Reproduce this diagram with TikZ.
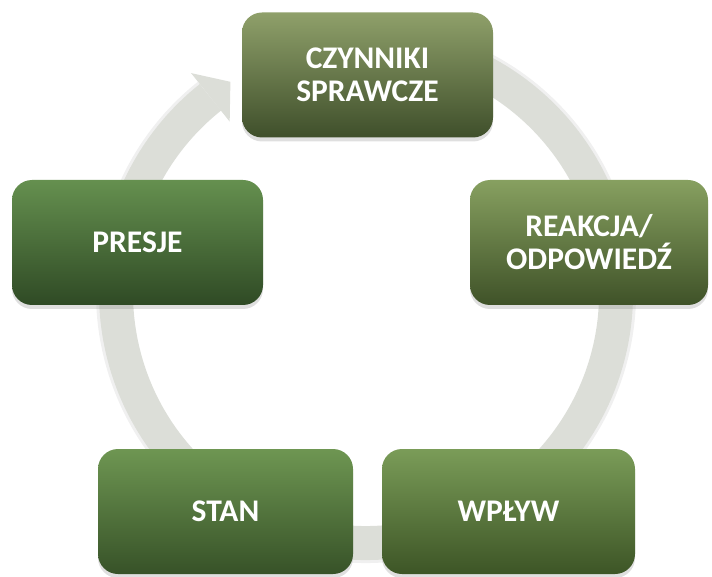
\documentclass[tikz,border=0pt]{standalone}
\usepackage{fontspec}
\setmainfont{Carlito}
\usetikzlibrary{shadows}
\definecolor{ringc}{RGB}{220,222,216}
\definecolor{t1}{RGB}{143,160,106}\definecolor{b1}{RGB}{63,79,43}
\definecolor{t2}{RGB}{135,160,96}\definecolor{b2}{RGB}{63,82,40}
\definecolor{t3}{RGB}{122,156,88}\definecolor{b3}{RGB}{61,85,38}
\definecolor{t4}{RGB}{110,150,82}\definecolor{b4}{RGB}{55,82,40}
\definecolor{t5}{RGB}{101,144,79}\definecolor{b5}{RGB}{47,74,37}
\tikzset{
  cyclebox/.style={rounded corners=20pt, inner sep=0pt, minimum height=125pt,
    align=center, text=white, font=\fontsize{31.5}{33}\selectfont\bfseries,
    drop shadow={shadow xshift=0pt, shadow yshift=-4pt, opacity=0.25}},
  ringline/.style={draw=ringc, line width=34pt},
  ringshadow/.style={draw=black, opacity=0.06, line width=36pt},
}
\begin{document}
\begin{tikzpicture}[x=1pt,y=-1pt]
\useasboundingbox (0,0) rectangle (712,577);
\begin{scope}[shift={(366,293)}]
  \draw[ringshadow] (260:252) arc[start angle=260, end angle=591.5, radius=252];
  \draw[ringline] (260:250) arc[start angle=260, end angle=591.5, radius=250];
  \coordinate (h1) at (591.5:219);
  \coordinate (h2) at (597.3:251);
  \coordinate (h3) at (591.5:281);
  \fill[ringc] (h1) -- (h2) -- (h3) -- cycle;
\end{scope}
\node[cyclebox, minimum width=251pt, top color=t1, bottom color=b1] (driv) at (367.5,75) {CZYNNIKI\\SPRAWCZE};
\node[cyclebox, minimum width=238pt, top color=t2, bottom color=b2] (resp) at (589,242.5) {REAKCJA/\\ODPOWIEDŹ};
\node[cyclebox, minimum width=253pt, top color=t3, bottom color=b3] (imp) at (508.5,511.5) {WPŁYW};
\node[cyclebox, minimum width=255pt, top color=t4, bottom color=b4] (stan) at (225.5,511.5) {STAN};
\node[cyclebox, minimum width=251pt, top color=t5, bottom color=b5] (pres) at (137.5,242.5) {PRESJE};
\end{tikzpicture}
\end{document}
